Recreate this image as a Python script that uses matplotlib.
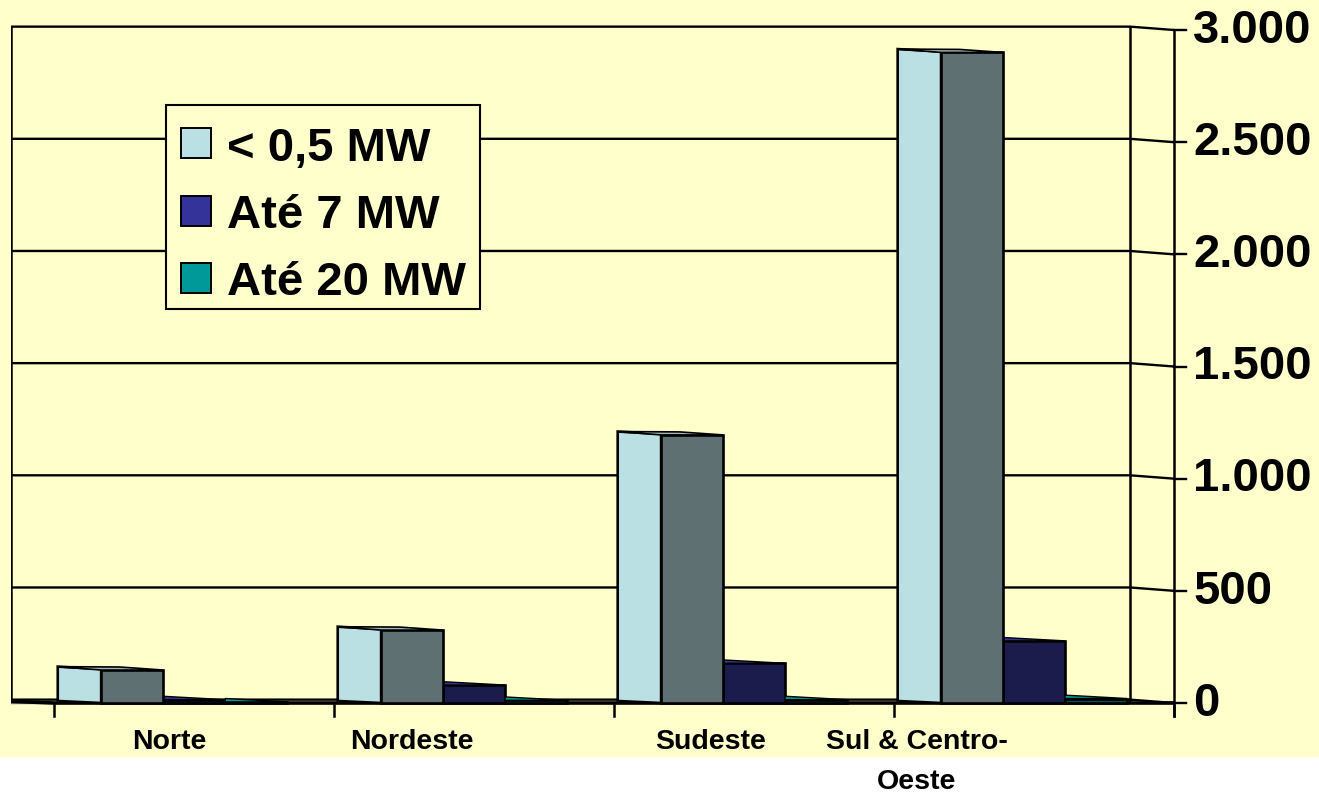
import matplotlib
matplotlib.use("Agg")
import matplotlib.pyplot as plt
from matplotlib.patches import Polygon, Rectangle

plt.rcParams['font.family'] = ['Liberation Sans', 'DejaVu Sans']
plt.rcParams['font.weight'] = 'bold'

regions = ['Norte', 'Nordeste', 'Sudeste', 'Sul & Centro-\nOeste']
series_names = ['< 0,5 MW', 'Até 7 MW', 'Até 20 MW']
small = [147, 325, 1195, 2900]      # < 0,5 MW
up_to_7 = [15, 80, 177, 277]         # Até 7 MW
up_to_20 = [5, 12, 15, 20]           # Até 20 MW
y_ticks = [0, 500, 1000, 1500, 2000, 2500, 3000]
tick_labels = ['0', '500', '1.000', '1.500', '2.000', '2.500', '3.000']
label_pos = [0.41, 1.279, 2.346, 3.082]

bg = '#FFFFCC'
legend_colors = ['#BBE0E3', '#333399', '#009999']
side_colors = ['#5F7073', '#1C1C4C', '#0B4F4F']
top_colors = ['#9DB6BA', '#333399', '#009999']

W, H = 1319, 794
fig = plt.figure(figsize=(W / 100, H / 100), dpi=100, facecolor='white')
fig.patches.append(Rectangle((0, 1 - 757 / H), 1, 757 / H, transform=fig.transFigure,
                             facecolor=bg, edgecolor='none', zorder=-10))

# axes: x in category units, y in values (front plane)
px_per_val = 0.22433
top_px, bot_px = 20, 720
ax = fig.add_axes([11 / W, 1 - bot_px / H, (1174 - 11) / W, (bot_px - top_px) / H])
ax.set_xlim(-0.154, 4.0)
ax.set_ylim(-(bot_px - 703) / px_per_val, (703 - top_px) / px_per_val)
ax.axis('off')
ax.patch.set_visible(False)

d = 15          # back-wall offset (value units)
x_back = 3.843  # right edge of back wall
lc = 'black'

# gridlines on back wall, sloping to the front axis
for t, lab in zip(y_ticks, tick_labels):
    ax.plot([-0.154, x_back, 4.0], [t + d, t + d, t], color=lc, lw=1.7, zorder=1)
    ax.plot([4.0, 4.043], [t, t], color=lc, lw=1.7, zorder=1, clip_on=False)
    ax.text(4.068, t - 3, lab, fontsize=34, fontweight='bold', ha='left', va='center',
            clip_on=False)
ax.plot([-0.154, -0.154], [d, 3000 + d], color=lc, lw=1.8, zorder=1)
ax.plot([x_back, x_back], [d, 3000 + d], color=lc, lw=1.8, zorder=1)
ax.plot([4.0, 4.0], [-58, 3000], color=lc, lw=1.8, zorder=1, clip_on=False)
# floor
ax.plot([-0.154, 0.0, 4.0], [d * 0.5, 0, 0], color=lc, lw=2.6, zorder=2)
ax.plot([-0.154, 4.0], [0, 0], color='#777777', lw=1.0, zorder=1)
for i in range(5):
    ax.plot([i, i], [-8, -58], color=lc, lw=1.8, clip_on=False)

# category names, one text per line
for i, lab in enumerate(regions):
    for j, line in enumerate(lab.split('\n')):
        ax.text(label_pos[i], -174 - 178 * j, line, fontsize=20.5, fontweight='bold',
                ha='center', va='center', clip_on=False)

ec = dict(edgecolor='black', linewidth=1.9, joinstyle='miter')

# light front face + dark side face of the < 0,5 MW bars
for i, v in enumerate(small):
    x0, x1, x2 = i + 0.013, i + 0.168, i + 0.389
    ax.add_patch(Polygon([(x0, d * 0.6), (x0, v + d), (x1, v + d * 0.3), (x1, 0)],
                         facecolor=legend_colors[0], zorder=4, **ec))
    ax.add_patch(Polygon([(x1, 0), (x1, v), (x2, v), (x2, 0)],
                         facecolor=side_colors[0], zorder=4, **ec))
    ax.add_patch(Polygon([(x0, v + d), (x1 + 0.3 * (x2 - x1), v + d * 0.9), (x2, v), (x1, v)],
                         facecolor=top_colors[0], zorder=5, edgecolor='black', linewidth=1.2))

# the other two series show only their side face and a thin top
for vals, k, (a, b) in [(up_to_7, 1, (0.389, 0.611)), (up_to_20, 2, (0.611, 0.832))]:
    for i, v in enumerate(vals):
        x0, x1 = i + a, i + b
        ax.add_patch(Polygon([(x0, 0), (x0, v), (x1, v), (x1, 0)],
                             facecolor=side_colors[k], zorder=3, **ec))
        ax.add_patch(Polygon([(x0, v), (x0, v + d), (x1, v)],
                             facecolor=top_colors[k], zorder=3, edgecolor='black', linewidth=1.0))

# legend box drawn by hand (pixel layout)
def fx(px):
    return px / W


def fy(py):
    return 1 - py / H


fig.patches.append(Rectangle((fx(166), fy(309)), fx(480) - fx(166), fy(105) - fy(309),
                             transform=fig.transFigure, facecolor=bg, edgecolor='black',
                             linewidth=1.5, zorder=5))
for k, name in enumerate(series_names):
    cy = 143 + 67.5 * k
    fig.patches.append(Rectangle((fx(181), fy(cy + 15)), fx(30), fy(0) - fy(30),
                                 transform=fig.transFigure, facecolor=legend_colors[k],
                                 edgecolor='black', linewidth=1.4, zorder=6))
    fig.text(fx(227), fy(cy + 17.5), name, fontsize=34, fontweight='bold',
             ha='left', va='baseline', zorder=6)

fig.savefig('out.png', dpi=100, facecolor='white')
